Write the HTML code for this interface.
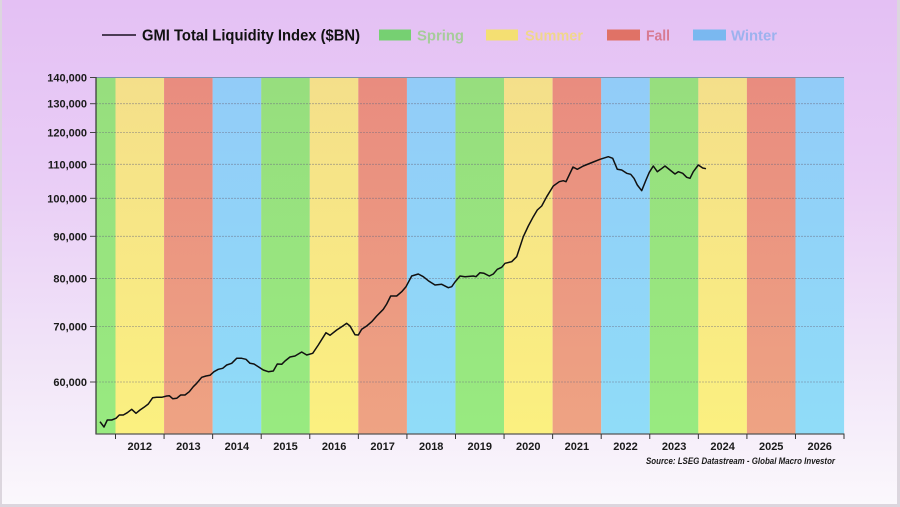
<!DOCTYPE html>
<html>
<head>
<meta charset="utf-8">
<style>
  html,body{margin:0;padding:0;}
  body{width:900px;height:507px;overflow:hidden;}
  svg{display:block;}
  text{font-family:"Liberation Sans",Arial,sans-serif;}
</style>
</head>
<body>
<svg width="900" height="507" viewBox="0 0 900 507" xmlns="http://www.w3.org/2000/svg">
  <defs>
    <linearGradient id="bg" x1="0" y1="0" x2="0" y2="1">
      <stop offset="0" stop-color="#e4c0f4"/>
      <stop offset="0.35" stop-color="#e9cdf6"/>
      <stop offset="0.7" stop-color="#f1e4f8"/>
      <stop offset="1" stop-color="#fbf8fc"/>
    </linearGradient>
    <linearGradient id="gG" x1="0" y1="0" x2="0" y2="1">
      <stop offset="0" stop-color="#97de7e"/><stop offset="1" stop-color="#98ea80"/>
    </linearGradient>
    <linearGradient id="gY" x1="0" y1="0" x2="0" y2="1">
      <stop offset="0" stop-color="#f4df8a"/><stop offset="1" stop-color="#fbf080"/>
    </linearGradient>
    <linearGradient id="gR" x1="0" y1="0" x2="0" y2="1">
      <stop offset="0" stop-color="#e98c7f"/><stop offset="1" stop-color="#eea383"/>
    </linearGradient>
    <linearGradient id="gB" x1="0" y1="0" x2="0" y2="1">
      <stop offset="0" stop-color="#92ccf8"/><stop offset="1" stop-color="#90dcf8"/>
    </linearGradient>
  </defs>

  <rect x="0" y="0" width="900" height="507" fill="url(#bg)"/>
  <!-- frame -->
  <rect x="0" y="0" width="2" height="507" fill="#dcd6de"/>
  <rect x="897" y="0" width="3" height="507" fill="#dcd6de"/>
  <rect x="0" y="504" width="900" height="3" fill="#dcd6de"/>

  <!-- Legend -->
  <line x1="102" y1="35" x2="136" y2="35" stroke="#1a1020" stroke-width="1.5"/>
  <text x="142" y="40.5" font-size="16" font-weight="bold" fill="#111" textLength="218" lengthAdjust="spacingAndGlyphs">GMI Total Liquidity Index ($BN)</text>
  <rect x="379" y="29.5" width="32" height="11" fill="#76d072"/>
  <text x="417" y="40.5" font-size="15" font-weight="bold" fill="#a6cc9a" textLength="47" lengthAdjust="spacingAndGlyphs">Spring</text>
  <rect x="486" y="29.5" width="32" height="11" fill="#f4df72"/>
  <text x="525" y="40.5" font-size="15" font-weight="bold" fill="#f0d68c" textLength="58" lengthAdjust="spacingAndGlyphs">Summer</text>
  <rect x="607" y="29.5" width="33" height="11" fill="#e07266"/>
  <text x="646" y="40.5" font-size="15" font-weight="bold" fill="#d87a92" textLength="24" lengthAdjust="spacingAndGlyphs">Fall</text>
  <rect x="693" y="29.5" width="33" height="11" fill="#7ab8f0"/>
  <text x="731" y="40.5" font-size="15" font-weight="bold" fill="#9cb2ee" textLength="46" lengthAdjust="spacingAndGlyphs">Winter</text>

  <!-- Season bands -->
  <rect x="96" y="77" width="19.5" height="357" fill="url(#gG)"/>
  <rect x="115.5" y="77" width="48.6" height="357" fill="url(#gY)"/>
  <rect x="164.07" y="77" width="48.6" height="357" fill="url(#gR)"/>
  <rect x="212.64" y="77" width="48.6" height="357" fill="url(#gB)"/>
  <rect x="261.21" y="77" width="48.6" height="357" fill="url(#gG)"/>
  <rect x="309.78" y="77" width="48.6" height="357" fill="url(#gY)"/>
  <rect x="358.35" y="77" width="48.6" height="357" fill="url(#gR)"/>
  <rect x="406.92" y="77" width="48.6" height="357" fill="url(#gB)"/>
  <rect x="455.49" y="77" width="48.6" height="357" fill="url(#gG)"/>
  <rect x="504.06" y="77" width="48.6" height="357" fill="url(#gY)"/>
  <rect x="552.63" y="77" width="48.6" height="357" fill="url(#gR)"/>
  <rect x="601.2" y="77" width="48.6" height="357" fill="url(#gB)"/>
  <rect x="649.77" y="77" width="48.6" height="357" fill="url(#gG)"/>
  <rect x="698.34" y="77" width="48.6" height="357" fill="url(#gY)"/>
  <rect x="746.91" y="77" width="48.6" height="357" fill="url(#gR)"/>
  <rect x="795.48" y="77" width="48.6" height="357" fill="url(#gB)"/>

  <!-- Gridlines -->
  <g stroke="#6a6a80" stroke-opacity="0.55" stroke-width="0.8" stroke-dasharray="2,1">
    <line x1="96" y1="103.7" x2="844" y2="103.7"/>
    <line x1="96" y1="132.5" x2="844" y2="132.5"/>
    <line x1="96" y1="164.3" x2="844" y2="164.3"/>
    <line x1="96" y1="198.3" x2="844" y2="198.3"/>
    <line x1="96" y1="236.3" x2="844" y2="236.3"/>
    <line x1="96" y1="278.5" x2="844" y2="278.5"/>
    <line x1="96" y1="326.5" x2="844" y2="326.5"/>
    <line x1="96" y1="382" x2="844" y2="382"/>
  </g>
  <line x1="96" y1="77.5" x2="844" y2="77.5" stroke="#7890b0" stroke-width="1"/>

  <!-- Axes -->
  <line x1="96" y1="77" x2="96" y2="434.5" stroke="#333" stroke-width="1.2"/>
  <line x1="96" y1="434" x2="844.5" y2="434" stroke="#555" stroke-width="1.2"/>

  <!-- Y ticks -->
  <g stroke="#444" stroke-width="1">
    <line x1="90" y1="77.5" x2="96" y2="77.5"/>
    <line x1="90" y1="103.7" x2="96" y2="103.7"/>
    <line x1="90" y1="132.5" x2="96" y2="132.5"/>
    <line x1="90" y1="164.3" x2="96" y2="164.3"/>
    <line x1="90" y1="198.3" x2="96" y2="198.3"/>
    <line x1="90" y1="236.3" x2="96" y2="236.3"/>
    <line x1="90" y1="278.5" x2="96" y2="278.5"/>
    <line x1="90" y1="326.5" x2="96" y2="326.5"/>
    <line x1="90" y1="382" x2="96" y2="382"/>
  </g>
  <g font-size="11" font-weight="bold" fill="#1a1a1a" text-anchor="end">
    <text x="87" y="81.5">140,000</text>
    <text x="87" y="107.7">130,000</text>
    <text x="87" y="136.5">120,000</text>
    <text x="87" y="168.3">110,000</text>
    <text x="87" y="202.3">100,000</text>
    <text x="87" y="240.3">90,000</text>
    <text x="87" y="282.5">80,000</text>
    <text x="87" y="330.5">70,000</text>
    <text x="87" y="386">60,000</text>
  </g>

  <!-- X ticks -->
  <g stroke="#333" stroke-width="1">
    <line x1="115.5" y1="434" x2="115.5" y2="439"/>
    <line x1="164.07" y1="434" x2="164.07" y2="439"/>
    <line x1="212.64" y1="434" x2="212.64" y2="439"/>
    <line x1="261.21" y1="434" x2="261.21" y2="439"/>
    <line x1="309.78" y1="434" x2="309.78" y2="439"/>
    <line x1="358.35" y1="434" x2="358.35" y2="439"/>
    <line x1="406.92" y1="434" x2="406.92" y2="439"/>
    <line x1="455.49" y1="434" x2="455.49" y2="439"/>
    <line x1="504.06" y1="434" x2="504.06" y2="439"/>
    <line x1="552.63" y1="434" x2="552.63" y2="439"/>
    <line x1="601.2" y1="434" x2="601.2" y2="439"/>
    <line x1="649.77" y1="434" x2="649.77" y2="439"/>
    <line x1="698.34" y1="434" x2="698.34" y2="439"/>
    <line x1="746.91" y1="434" x2="746.91" y2="439"/>
    <line x1="795.48" y1="434" x2="795.48" y2="439"/>
    <line x1="844" y1="434" x2="844" y2="439"/>
  </g>
  <g font-size="11" font-weight="bold" fill="#1a1a1a" text-anchor="middle">
    <text x="139.8" y="450">2012</text>
    <text x="188.4" y="450">2013</text>
    <text x="236.9" y="450">2014</text>
    <text x="285.5" y="450">2015</text>
    <text x="334.1" y="450">2016</text>
    <text x="382.6" y="450">2017</text>
    <text x="431.2" y="450">2018</text>
    <text x="479.8" y="450">2019</text>
    <text x="528.3" y="450">2020</text>
    <text x="576.9" y="450">2021</text>
    <text x="625.5" y="450">2022</text>
    <text x="674.1" y="450">2023</text>
    <text x="722.6" y="450">2024</text>
    <text x="771.2" y="450">2025</text>
    <text x="819.7" y="450">2026</text>
  </g>

  <text x="646" y="464" font-size="9" font-weight="bold" font-style="italic" fill="#1a1a1a" textLength="189" lengthAdjust="spacingAndGlyphs">Source: LSEG Datastream - Global Macro Investor</text>

  <!-- Data series -->
  <polyline fill="none" stroke="#111" stroke-width="1.5" stroke-linejoin="round" points="
    100,421.7 104,427 107.3,420 111.7,420 116,418.3 119.3,415 123.3,415 127.3,412.7 131.7,409.3 136,413.3
    140,410 144,407.3 148.3,404 152.7,397.7 156.7,397.3 161.7,397.3 166.7,396 169.3,395.7 172.7,398.7 176.7,398.3
    180.7,395 185,395 189.3,391.7 193.3,386.7 196.7,383.3 201.7,377.3 206,376 210,375.3 214,371.7 218.3,369.3
    222.7,368.3 226.7,365 231.7,363.3 236.7,358.3 241.7,358.3 246,359.3 250,363.3 254,364 258.3,366.7 263.3,370
    268.3,371.7 273.3,371 277.3,364 281.7,364.3 285,361 290,357 295,356 301.7,352 306.7,355 312.7,353.3
    318.3,345 326,332.7 330,335.3 336.7,330 341.7,326.7 346.7,323.3 350,326 355,334.7 358.3,335 361.7,329.3
    366.7,326 371.7,321.7 376.7,316 383.3,309.3 386.7,304 390.7,296 396.7,296 401.7,291.7 406,286.7 411.7,276
    418.3,274 423.3,276.7 428.3,280.7 435,285 441.7,284.3 448.3,287.7 451.7,286.7 455,282 460,276 465,276.7
    473.3,276 476,276.7 480,272.7 484,273.3 489.3,276 493.3,274 497.3,269.3 501.7,267.3 505,263.3 511.7,261.7
    516.7,256.7 523.3,236.7 528.3,226 533.3,216.7 537.3,210 541.7,206 546.7,196.7 553.3,186 559.3,181.7 563.3,180.7
    566,181.7 573,167 577.3,169.3 583.3,166 588.3,164 593.3,162 600,159.3 608.3,156.7 612.7,158.3 617.3,169.3
    621.7,170 626.7,173.3 630.7,174.3 634,178.3 637.3,185 641.7,190.7 646,180 649.3,172.3 653.3,166 657.3,171.7
    660.7,169.3 665,166 670,170 675,174 678.3,171.7 682.7,173.3 686.7,177.3 690,178.3 693.3,171.7 698.3,165
    702.7,168 706,168.7"/>
</svg>
</body>
</html>
